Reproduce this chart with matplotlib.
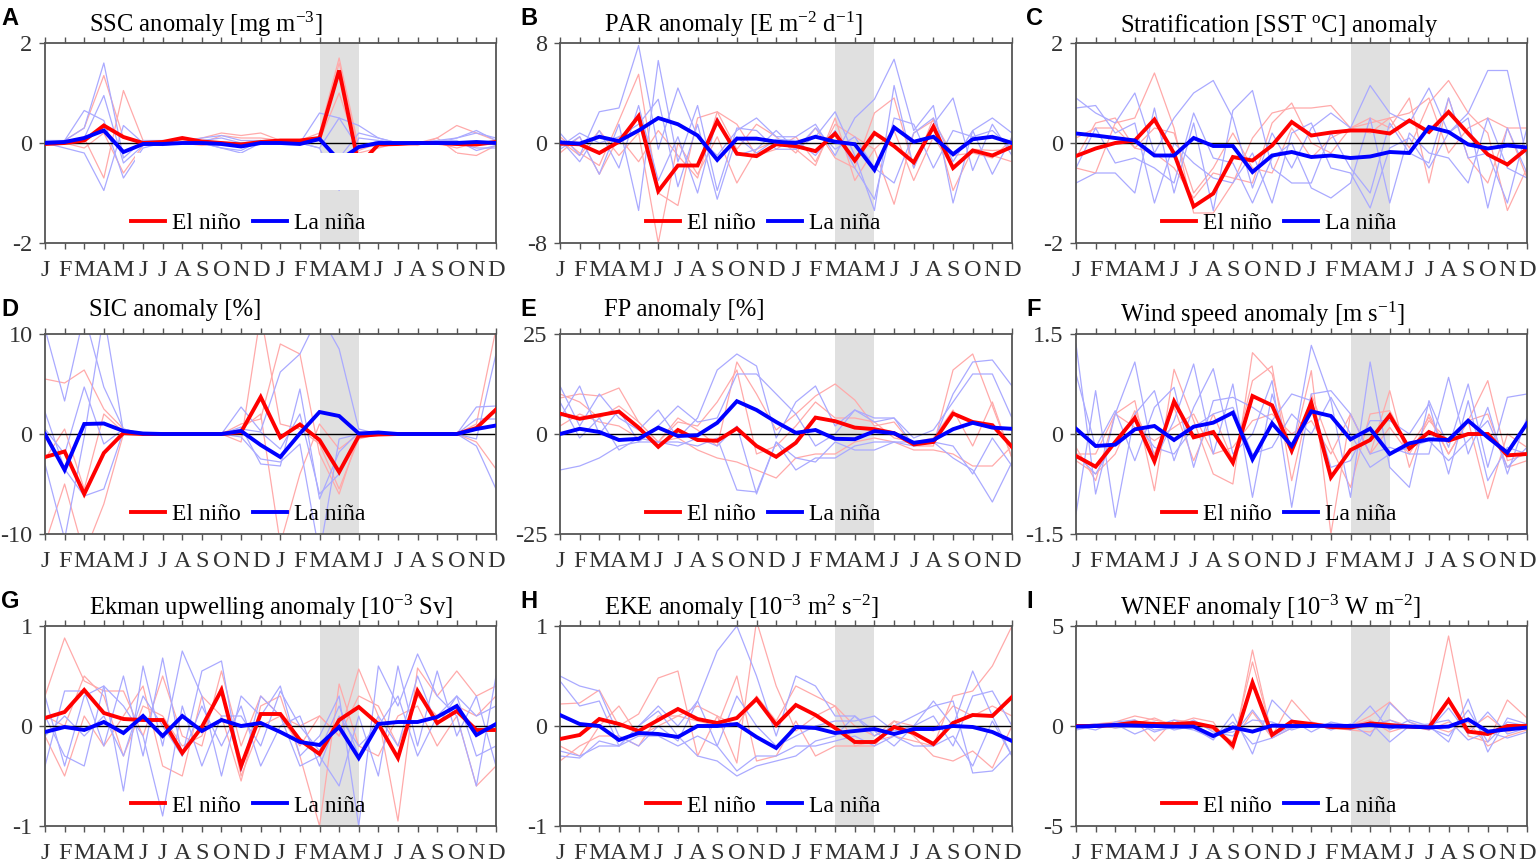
import matplotlib
matplotlib.use("Agg")
import matplotlib.pyplot as plt
from matplotlib.patches import Rectangle
import numpy as np

plt.rcParams['font.family'] = ['Liberation Serif', 'DejaVu Serif']
plt.rcParams['mathtext.default'] = 'regular'
plt.rcParams['axes.unicode_minus'] = False

months = ["J", "F", "M", "A", "M", "J", "J", "A", "S", "O", "N", "D"] * 2
x = np.arange(24)

# ---------------- A: SSC ----------------
ssc_el = [-0.02, 0.0, 0.05, 0.35, 0.12, 0.0, 0.02, 0.1, 0.03, 0.0, -0.03, 0.02,
          0.05, 0.05, 0.1, 1.45, -0.45, -0.03, -0.02, 0.0, 0.0, -0.02, -0.03, 0.02]
ssc_la = [0.0, 0.02, 0.1, 0.25, -0.18, -0.02, -0.02, 0.0, 0.0, -0.02, -0.07, 0.0,
          0.0, -0.02, 0.08, -0.35, -0.08, 0.0, 0.0, 0.0, 0.0, 0.0, 0.02, 0.0]
ssc_el_m = [
    [0, 0.05, 0.3, 1.35, 0.1, 0, 0.05, 0.05, 0.1, 0.2, 0.15, 0.2, 0.05, 0.05, 0.2, 1.7, -0.1, -0.05, 0, 0, 0.1, 0.35, 0.2, 0.05],
    [0.02, 0.03, 0.1, -0.7, 1.05, 0.05, 0, 0.05, 0, 0.15, 0.1, 0.1, 0.05, 0.05, 0.05, 1.0, -0.2, -0.1, 0, -0.05, 0.1, -0.2, -0.25, -0.05],
    [-0.02, 0, -0.1, 0.2, -0.6, -0.05, 0, 0, -0.05, 0, 0, 0.05, 0, 0.02, 0.05, 1.6, -0.15, 0, 0, 0, 0, -0.1, 0, 0.05]]
ssc_la_m = [
    [0.05, 0.05, 0.3, 1.6, -0.3, 0.05, 0.05, 0, 0.05, 0.1, 0, 0, 0, 0, -0.1, 0.5, 0.35, 0.1, 0, 0, 0, 0.1, 0.25, 0.05],
    [0, 0.05, 0.65, 0.45, -0.7, -0.1, 0, 0.02, 0.1, 0.15, 0.05, 0.05, 0, 0, 0.6, 0.5, -0.1, 0.05, 0, 0, 0.05, 0.1, 0.2, 0.1],
    [0, -0.1, -0.2, -0.95, 0.35, 0, -0.05, 0, 0, -0.1, -0.2, 0, 0, 0, -0.1, -0.95, 0.1, 0.05, 0, 0, 0, 0, -0.1, -0.1],
    [0, 0.03, 0.1, 0.95, -0.4, -0.05, 0, 0, 0, -0.1, -0.15, 0.05, -0.02, 0, 0.05, -0.3, 0.2, 0.1, 0, 0, 0.05, 0.05, -0.15, -0.05]]

# ---------------- B: PAR ----------------
par_el = [-0.05, -0.1, -0.8, 0.1, 2.15, -3.85, -1.8, -1.8, 1.75, -0.85, -1.05, -0.1,
          -0.25, -0.65, 0.75, -1.4, 0.8, -0.25, -1.55, 1.3, -2.0, -0.6, -1.0, -0.3]
par_la = [0.05, -0.05, 0.5, 0.15, 1.0, 2.0, 1.5, 0.6, -1.35, 0.35, 0.35, 0.1,
          0.0, 0.5, 0.1, -0.1, -2.15, 1.25, 0.1, 0.5, -0.9, 0.3, 0.5, 0.0]
par_el_m = [
    [0.5, -0.8, -1.8, 1.8, 5.5, -4.0, -5.0, 2.0, 2.5, -0.5, 1.5, 0.5, -0.8, 1.2, -1.2, -2.0, 2.4, 3.6, -2.0, 2.0, -3.8, -0.5, -1.0, -1.5],
    [0.2, -1.0, 1.0, -1.0, 0.8, -8.0, 0.0, -2.5, 0.5, -3.2, -0.5, 0.2, -0.5, -1.8, 2.0, -3.0, -0.5, -4.9, 0.8, 1.8, -1.0, -0.8, -1.2, 0.3],
    [-0.8, 0.5, -2.5, 0.5, -1.5, 1.0, -1.0, -2.8, 2.5, 1.5, -1.0, -0.5, 0.5, -1.5, 1.5, 0.5, -0.5, 1.0, -3.0, 0.5, -2.0, -0.5, -0.6, -0.5]]
par_la_m = [
    [0.8, -1.0, 2.5, 2.8, 7.8, -0.5, 4.4, 0.5, -1.0, 1.0, 2.0, 0.5, 0.5, 1.5, -1.0, 2.0, 3.5, 6.7, 1.0, 3.0, -4.8, 1.0, 2.0, 0.8],
    [-0.5, 0.5, -2.5, 1.5, -5.4, 6.6, -1.5, 3.0, -3.8, 1.2, 1.0, -0.5, -0.5, 0.5, 2.5, -1.0, -5.4, 4.6, -2.0, 1.5, 3.6, -2.2, 1.5, -1.0],
    [0.3, -1.5, 1.0, -2.0, 3.0, -3.0, 0.5, -4.0, 2.0, -1.0, -0.5, 1.0, -0.5, 1.2, -0.5, 0.5, -2.0, -3.2, 0.8, 2.0, -1.5, 1.0, -2.5, 0.5],
    [-0.3, 0.8, 0.0, 0.5, 1.5, 3.5, -3.5, 1.5, -4.5, 0.5, -0.8, 0.3, 0.2, -1.0, 1.0, -2.0, -4.5, 2.0, 1.5, -2.0, 1.0, 0.5, 1.0, -0.5]]

# ---------------- C: Stratification ----------------
sst_el = [-0.26, -0.11, 0.0, 0.05, 0.47, -0.21, -1.27, -1.01, -0.28, -0.35, -0.05, 0.42,
          0.15, 0.21, 0.25, 0.25, 0.19, 0.45, 0.22, 0.62, 0.19, -0.23, -0.43, -0.11]
sst_la = [0.19, 0.15, 0.1, 0.05, -0.25, -0.25, 0.1, -0.06, -0.06, -0.58, -0.25, -0.18,
          -0.28, -0.25, -0.3, -0.27, -0.18, -0.2, 0.32, 0.22, -0.03, -0.11, -0.05, -0.09]
sst_el_m = [
    [-0.5, -0.6, 0.4, 0.5, 1.4, 0.3, -1.4, -1.4, -0.8, 0.1, 0.6, 0.7, 0.7, 0.75, 0.3, 0.4, 0.5, -0.1, 0.8, 1.25, 0.6, 0.2, -1.35, -0.5],
    [0.1, 0.3, 0.3, -0.1, -0.2, -0.5, -1.1, -0.6, -0.7, -0.8, 0.4, 0.8, 0.0, -0.2, 0.3, 0.5, 0.3, 0.9, -0.8, 0.9, -0.3, -0.8, 0.3, 0.3],
    [-0.3, 0.4, 0.5, -0.1, 0.3, 0.2, -1.0, -0.5, 0.2, -0.5, -0.6, 0.3, -0.3, 0.1, 0.3, 0.2, 0.5, 0.6, 0.9, -0.2, 0.3, 0.5, 0.3, -0.7]]
sst_la_m = [
    [0.9, 0.6, 0.4, 1.0, -0.2, 0.5, 1.0, 1.25, 0.5, -0.9, 0.2, -0.5, 0.3, 0.6, 0.3, 1.15, 0.6, 0.4, 1.1, 0.2, 0.6, 1.45, 1.45, -0.3],
    [-0.8, -0.6, -0.6, -1.0, 0.7, -1.0, 0.4, -1.35, 0.65, 1.05, -0.5, -0.8, -0.8, 0.2, -0.5, -1.0, 0.4, -0.2, -0.4, 0.9, -0.3, -0.2, -1.2, 0.3],
    [0.7, 0.75, 0.2, 0.4, -1.2, 0.0, -0.4, -0.7, -0.8, -0.2, -1.2, 0.2, 0.4, -0.5, -0.6, -1.3, -0.1, 0.1, -0.5, 0.2, 0.5, -1.3, 0.3, -0.6],
    [-0.5, 0.3, -0.4, -0.3, -0.5, -0.8, 0.6, -0.3, -0.4, -1.2, -0.3, 0.0, -0.9, -1.1, -0.8, 0.5, -1.2, 0.2, -0.2, -0.3, -0.8, 0.5, -0.5, -0.7]]

# ---------------- D: SIC ----------------
sic_el = [-2.3, -1.75, -6.0, -1.9, 0.1, 0.0, 0.0, 0.0, 0.0, 0.0, 0.2, 3.7,
          -0.35, 0.95, -0.6, -3.8, -0.2, -0.05, 0.0, 0.0, 0.0, 0.0, 0.6, 2.45]
sic_la = [0.0, -3.6, 1.0, 1.05, 0.3, 0.05, 0.0, 0.0, 0.0, 0.0, 0.3, -1.1,
          -2.3, 0.05, 2.2, 1.8, 0.05, 0.15, 0.0, 0.0, 0.0, 0.0, 0.5, 0.85]
sic_el_m = [
    [5.5, 5.1, 6.4, 2.5, 0.5, 0, 0, 0, 0, 0, 1.0, 1.5, 9.0, 8.0, -2.0, -6.0, 0.0, 0, 0, 0, 0, 0, 1.0, 10.5],
    [-11, -5.0, -12, -7.0, 0.0, 0, 0, 0, 0, 0, -0.8, 12, 1.0, 0.5, -1.0, -5.5, -0.5, 0, 0, 0, 0, 0, -0.8, -3.5],
    [-2.5, 0.5, -5.5, 2.0, 0.2, 0, 0, 0, 0, 0, 0.5, 2.0, -11, -4.0, 1.0, -1.5, 0, 0, 0, 0, 0, 0, 0.5, 2.5]]
sic_la_m = [
    [10.5, 3.3, 12, 4.7, 0.5, 0, 0, 0, 0, 0, 2.7, 0.3, 6.2, 8.0, 12, 8.5, 0.5, 0, 0, 0, 0, 0, 2.7, 2.8],
    [2.2, -3.5, -6.2, -5.5, 0.3, 0, 0, 0, 0, 0, 0.7, -3.0, -3.2, 4.5, -6.5, -1.8, 0.2, 0, 0, 0, 0, 0, -0.5, 8.0],
    [-3.0, -10.5, -0.3, 12, 0.2, 0, 0, 0, 0, 0, -0.3, -2.5, -2.8, -1.0, -12, -0.5, 0, 0, 0, 0, 0, 0, -1.2, -5.5],
    [0.5, -2.0, 4.7, -1.0, 0.5, 0, 0, 0, 0, 0, 0.5, 0.2, -1.5, 2.0, -6.0, -4.0, 0, 0, 0, 0, 0, 0, 1.5, 1.5]]

# ---------------- E: FP ----------------
fp_el = [5.1, 3.8, 4.7, 5.6, 1.6, -3.2, 1.0, -1.5, -1.7, 1.4, -3.0, -5.7,
         -2.2, 4.1, 3.2, 1.6, 1.2, 0.2, -2.6, -2.0, 5.1, 3.0, 2.2, -3.2]
fp_la = [0.0, 1.3, 0.5, -1.5, -1.2, 1.6, -0.5, -0.3, 2.8, 8.2, 6.0, 3.0,
         0.3, 1.0, -1.2, -1.3, 0.7, 0.2, -2.2, -1.5, 1.2, 2.8, 1.6, 1.3]
fp_el_m = [
    [9, 10, 9.5, 11.5, 3, -2, 4, 1, -3, 18, 10, 1, 5, 9.5, 12.5, 8.5, 2, 3, -3, -3, 16, 20, 7, -6],
    [2, 5, 3, 2, -1, -2, -1, -4, -6, -7, -9, -11, -6, -5, -5, -2, -1, -2, -4, -4, -5, -8, -8, -3],
    [10, 8, 4, 7, 3, -2, 3, 2, 8, 16, -5, -3, 2, 8, 4, 4, 3, -1, -2, -1, 6, -3, 8, -6]]
fp_la_m = [
    [12, 2, 10, 4, 1, 6, -1, 4, 16, 20, 17, -1, 8, 12, 2, 6, 3, 4, -3, -2, 10, 18, 18.5, 12],
    [-9, -8, -6, -3, -2, -2, -2, -3, -1, -14, -14.5, -2, -9, -6, -6, -3, -2, -2, -3, -2, -6, -9, -17, -7],
    [4, 12, 0, 6, -2, 2, 7, 3, 4, 15, 15, 10, 5, -3, 0, 6, 4, 4, -1, 1, 8, 15, 15, 4],
    [8, -1, 4, -4, -1, -2, -3, -1, -3, 2, -15, -2, -6, -7, -2, -4, -4, -2, -2, -2, -3, -10, -1, -8]]

# ---------------- F: Wind speed ----------------
ws_el = [-0.33, -0.49, -0.12, 0.24, -0.41, 0.49, -0.05, 0.03, -0.43, 0.57, 0.43, -0.25,
         0.47, -0.65, -0.24, -0.09, 0.28, -0.22, 0.03, -0.1, 0.0, 0.0, -0.32, -0.3]
ws_la = [0.08, -0.18, -0.16, 0.07, 0.12, -0.09, 0.11, 0.17, 0.32, -0.38, 0.16, -0.18,
         0.34, 0.27, -0.08, 0.08, -0.3, -0.14, -0.08, -0.09, 0.2, -0.05, -0.28, 0.16]
ws_el_m = [
    [-0.2, -0.7, 0.3, 0.5, -0.85, 0.97, 0.2, -0.6, -0.75, 1.22, 0.9, -0.3, 0.95, -1.5, 0.3, -0.3, 0.65, -0.5, 0.3, -0.3, 0.2, 0.8, -0.4, -0.3],
    [-0.4, -0.6, -0.3, 0.35, -0.3, 0.4, -0.4, 0.3, -0.4, 0.8, 1.02, -0.7, 0.6, -0.2, -0.8, 0.3, 0.35, -0.2, 0.25, -0.3, 0.2, -0.97, 0.0, -0.2],
    [-0.3, -0.3, 0.3, 0.1, -0.1, 0.1, 0.3, -0.3, -0.2, 0.2, 0.3, 0.0, 0.2, -0.3, 0.3, -0.3, 0.1, -0.3, 0.2, -0.1, 0.2, 0.3, -0.5, -0.4]]
ws_la_m = [
    [1.35, -0.9, 0.3, 1.08, -0.4, 0.2, 1.05, -0.3, 0.75, -0.95, 0.6, -0.3, 1.33, 0.5, -0.95, 1.08, -0.5, -0.8, 0.5, -0.2, 0.75, -0.5, 0.55, 0.6],
    [-1.2, 0.65, -1.25, 0.3, 0.65, -0.4, 0.4, 0.98, -0.3, 0.0, 0.8, -1.1, 0.6, 0.65, 0.3, -0.3, -0.2, -0.3, -0.3, 0.85, -0.3, 0.4, -0.6, 0.25],
    [0.9, -0.2, 0.35, -0.4, 0.4, 0.7, -0.5, 0.5, 0.55, 0.4, 0.2, 0.6, 0.5, -0.5, -0.4, 0.2, 0.2, 0.0, 0.45, -0.6, 0.5, -0.7, -0.2, -0.3],
    [-0.3, -0.6, -0.1, 0.2, -0.2, -0.3, 0.1, 0.3, 0.4, -0.3, -0.2, 0.3, 0.0, 0.55, 0.0, -0.5, -0.3, -0.2, -0.1, -0.4, -0.1, 0.2, -0.5, -0.2]]

# ---------------- G: Ekman upwelling ----------------
ek_el = [0.08, 0.14, 0.36, 0.13, 0.07, 0.06, 0.06, -0.27, -0.01, 0.36, -0.4, 0.12,
         0.12, -0.14, -0.28, 0.06, 0.19, 0.02, -0.32, 0.35, 0.03, 0.15, -0.04, -0.04]
ek_la = [-0.06, -0.01, -0.04, 0.04, -0.07, 0.1, -0.1, 0.1, -0.05, 0.06, 0.0, 0.03,
         -0.06, -0.16, -0.19, -0.01, -0.32, 0.02, 0.04, 0.04, 0.09, 0.2, -0.09, 0.02]
ek_el_m = [
    [0.3, 0.88, 0.45, 0.35, 0.35, -0.1, 0.5, -0.1, -0.2, 0.55, -0.2, 0.3, 0.1, -0.2, 0.1, -0.1, 0.57, 0.1, -0.95, 0.58, 0.3, 0.55, 0.3, 0.4],
    [-0.1, -0.5, 0.1, -0.2, 0.1, 0.4, -0.4, -0.5, 0.3, 0.1, -0.55, 0.2, 0.3, -0.3, -1.0, 0.42, -0.2, -0.3, 0.1, 0.2, -0.2, 0.1, -0.6, -0.4],
    [0.1, 0.0, 0.5, 0.3, -0.3, 0.2, 0.1, -0.2, -0.1, 0.4, -0.5, 0.0, 0.1, 0.0, 0.1, -0.1, 0.3, 0.2, -0.2, 0.3, 0.1, 0.2, 0.1, 0.3]]
ek_la_m = [
    [0.3, -0.4, 0.3, 0.4, -0.65, 0.6, -0.2, 0.75, 0.3, -0.5, 0.3, 0.1, 0.4, -0.3, -0.1, 0.3, -1.0, 0.6, 0.2, 0.72, 0.3, 0.1, -0.6, 0.5],
    [-0.4, 0.35, 0.35, -0.2, 0.5, -0.3, 0.68, -0.3, 0.55, 0.65, -0.45, 0.3, 0.1, -0.4, -0.3, -0.6, 0.1, -0.5, 0.6, -0.2, 0.55, -0.1, 0.3, -0.4],
    [0.1, -0.3, -0.4, 0.4, 0.2, -0.1, -0.9, 0.2, -0.4, 0.1, 0.1, -0.2, 0.35, 0.0, -0.25, 0.2, -0.3, 0.1, -0.2, 0.5, 0.0, 0.3, 0.1, 0.2],
    [-0.1, 0.1, -0.1, 0.1, -0.3, 0.3, 0.0, -0.3, 0.2, -0.2, 0.2, -0.4, 0.0, 0.1, -0.4, 0.1, -0.2, 0.0, 0.3, -0.3, 0.1, 0.3, -0.3, -0.2]]

# ---------------- H: EKE ----------------
eke_el = [-0.13, -0.09, 0.07, 0.02, -0.05, 0.06, 0.17, 0.07, 0.03, 0.08, 0.27, 0.01,
          0.21, 0.11, -0.02, -0.16, -0.16, -0.01, -0.07, -0.18, 0.03, 0.11, 0.1, 0.29]
eke_la = [0.11, 0.02, 0.0, -0.14, -0.07, -0.08, -0.11, 0.0, 0.0, 0.02, -0.11, -0.22,
          -0.01, -0.02, -0.07, -0.05, -0.03, -0.08, -0.03, -0.03, 0.0, -0.01, -0.06, -0.15]
eke_el_m = [
    [0.22, 0.23, 0.36, 0.0, 0.12, 0.48, 0.55, -0.3, 0.1, -0.37, 1.05, 0.4, -0.05, 0.1, 0.2, -0.2, -0.2, 0.05, -0.1, -0.3, -0.35, -0.25, -0.42, 0.0],
    [-0.35, -0.2, -0.1, -0.1, -0.2, 0.1, 0.1, 0.05, 0.0, 0.5, -0.35, -0.3, 0.05, -0.3, -0.2, -0.2, -0.15, -0.1, -0.15, -0.2, 0.3, 0.35, 0.6, 1.0],
    [-0.2, -0.3, 0.0, 0.2, -0.1, 0.0, 0.1, 0.2, 0.1, 0.0, 0.3, 0.05, 0.4, 0.3, 0.2, 0.0, -0.1, 0.05, 0.0, -0.05, 0.2, 0.1, 0.2, 0.1]]
eke_la_m = [
    [0.5, 0.4, 0.35, -0.1, -0.2, 0.0, -0.15, 0.25, 0.75, 1.0, 0.5, -0.1, 0.5, 0.4, 0.1, 0.1, -0.05, -0.2, 0.0, 0.25, 0.0, 0.55, 0.1, -0.3],
    [-0.25, -0.3, -0.2, -0.2, 0.0, 0.15, -0.1, -0.3, -0.35, -0.5, -0.4, -0.35, -0.3, -0.15, -0.1, 0.1, -0.1, 0.0, 0.1, 0.2, 0.25, -0.47, -0.45, -0.25],
    [0.45, 0.2, 0.25, -0.2, 0.0, 0.2, 0.0, 0.25, -0.2, 0.3, 0.0, -0.2, -0.1, 0.0, 0.05, 0.05, 0.1, -0.05, 0.0, 0.1, -0.2, 0.3, 0.35, 0.0],
    [-0.3, -0.32, -0.15, -0.2, -0.1, -0.1, -0.2, -0.1, -0.2, -0.45, -0.3, -0.3, -0.2, -0.2, -0.15, -0.1, -0.2, -0.1, -0.2, -0.2, -0.1, -0.4, 0.05, -0.3]]

# ---------------- I: WNEF ----------------
wn_el = [0.0, 0.0, 0.05, 0.17, 0.1, 0.1, 0.15, -0.05, -0.98, 2.17, -0.45, 0.22,
         0.1, -0.05, -0.08, 0.13, 0.05, -0.03, -0.07, 1.3, -0.28, -0.4, 0.0, 0.0]
wn_la = [-0.03, 0.0, 0.05, 0.02, 0.0, -0.03, -0.03, -0.5, -0.07, -0.28, 0.02, 0.0,
         0.0, 0.02, 0.0, 0.05, -0.03, -0.03, -0.07, -0.03, 0.33, -0.28, -0.17, -0.08]
wn_el_m = [
    [0.0, 0.1, 0.2, 0.5, 0.3, 0.1, 0.4, 0.2, -1.2, 3.8, -0.5, 1.3, 0.2, 0.0, 0.0, 0.5, 1.2, 0.2, -0.1, 4.5, -0.5, -0.8, 1.3, 0.4],
    [0.0, 0.0, 0.1, 0.3, -0.75, 0.3, 0.2, -0.2, -0.9, 3.2, -0.4, 0.3, 0.0, -0.1, -0.2, -0.3, 0.3, 0.0, 0.0, -0.3, 0.2, -1.0, -0.5, -0.2],
    [0.0, 0.1, -0.1, 0.1, 0.4, 0.0, 0.1, -0.1, -0.8, 0.7, -0.6, -0.1, 0.1, 0.0, 0.0, 0.3, -0.3, 0.0, -0.2, 0.2, -0.2, 0.5, -0.3, 0.0]]
wn_la_m = [
    [-0.1, 0.1, 0.1, -0.4, 0.0, 0.3, -0.1, -0.7, 0.6, -1.4, 1.3, 0.3, -0.3, 0.2, 0.0, 1.0, -0.2, 0.3, 0.0, -0.8, 1.35, -1.3, 0.4, 0.1],
    [0.0, -0.2, 0.2, 0.3, -0.2, -0.1, 0.3, -0.3, -0.5, 0.8, -0.5, 0.0, 0.2, -0.2, 0.1, -0.5, 1.15, 0.2, -0.2, 0.9, -0.4, 0.7, -0.4, -0.1],
    [-0.2, 0.0, 0.0, 0.2, -0.3, 0.0, -0.2, -0.6, 0.2, -0.9, -0.6, -0.1, 0.0, 0.1, -0.2, 0.2, -0.8, 0.0, 0.1, 0.3, -0.7, -0.3, -0.6, -0.3],
    [0.0, 0.1, -0.1, 0.0, 0.2, -0.2, 0.0, -0.4, -0.3, 0.3, 0.2, -0.2, 0.1, -0.1, 0.1, 0.0, 0.3, -0.1, -0.1, -0.5, 0.8, -0.8, 0.2, 0.0]]

titles = ["SSC anomaly [mg m$^{-3}$]",
          "PAR anomaly [E m$^{-2}$ d$^{-1}$]",
          "Stratification [SST $^{o}$C] anomaly",
          "SIC anomaly [%]",
          "FP anomaly [%]",
          "Wind speed anomaly [m s$^{-1}$]",
          "Ekman upwelling anomaly [10$^{-3}$ Sv]",
          "EKE anomaly [10$^{-3}$ m$^{2}$ s$^{-2}$]",
          "WNEF anomaly [10$^{-3}$ W m$^{-2}$]"]
letters = ["A", "B", "C", "D", "E", "F", "G", "H", "I"]
ylims = [2, 8, 2, 10, 25, 1.5, 1, 1, 5]
ylabels = [["-2", "0", "2"], ["-8", "0", "8"], ["-2", "0", "2"],
           ["-10", "0", "10"], ["-25", "0", "25"], ["-1.5", "0", "1.5"],
           ["-1", "0", "1"], ["-1", "0", "1"], ["-5", "0", "5"]]
el_means = [ssc_el, par_el, sst_el, sic_el, fp_el, ws_el, ek_el, eke_el, wn_el]
la_means = [ssc_la, par_la, sst_la, sic_la, fp_la, ws_la, ek_la, eke_la, wn_la]
el_members = [ssc_el_m, par_el_m, sst_el_m, sic_el_m, fp_el_m, ws_el_m, ek_el_m, eke_el_m, wn_el_m]
la_members = [ssc_la_m, par_la_m, sst_la_m, sic_la_m, fp_la_m, ws_la_m, ek_la_m, eke_la_m, wn_la_m]

# layout (pixels of a 1536 x 863 canvas)
W, H = 1536, 863
col_left = [45, 560, 1076]
col_w = [451, 452, 451]
row_top = [43, 334, 626]
ax_h = 200
title_gap = [11, 11, 11, 18, 18, 12, 11, 11, 11]
letter_x = [1, 520, 1026]
letter_base = [25, 316, 608]

RED, BLUE = "#ff0000", "#0000ff"
RED_L, BLUE_L = "#ffaaaa", "#aaaaff"
SPINE = "#555555"
FS = 17

fig = plt.figure(figsize=(W / 100, H / 100), dpi=100)

for k in range(9):
    r, c = divmod(k, 3)
    left = col_left[c] / W
    bottom = 1 - (row_top[r] + ax_h) / H
    ax = fig.add_axes([left, bottom, col_w[c] / W, ax_h / H])
    lim = ylims[k]
    ax.axvspan(14, 16, color="#e0e0e0", zorder=0, lw=0)
    for m in el_members[k]:
        ax.plot(x, m, color=RED_L, lw=0.9, zorder=1)
    for m in la_members[k]:
        ax.plot(x, m, color=BLUE_L, lw=0.9, zorder=1)
    ax.axhline(0, color="black", lw=1.0, zorder=2)
    h1, = ax.plot(x, el_means[k], color=RED, lw=2.8, zorder=3, solid_joinstyle="miter")
    h2, = ax.plot(x, la_means[k], color=BLUE, lw=2.8, zorder=3, solid_joinstyle="miter")
    if k == 0:
        ax.add_patch(Rectangle((4.6, -0.93), 16.4, 0.73, facecolor="white",
                               edgecolor="none", zorder=4))
    ax.set_xlim(0, 23)
    ax.set_ylim(-lim, lim)
    ax.set_xticks(x)
    ax.set_xticklabels(months, fontsize=FS + 0.5, color="#333333")
    ax.set_yticks([-lim, 0, lim])
    ax.set_yticklabels(ylabels[k], fontsize=FS + 0.5, color="#333333")
    ax.tick_params(axis="x", which="both", direction="out", length=4, width=1.0,
                   color=SPINE, top=True, pad=8)
    ax.tick_params(axis="y", direction="out", length=4, width=1.0, color=SPINE, pad=5)
    for s in ax.spines.values():
        s.set_color(SPINE)
        s.set_linewidth(1.3)
    leg = ax.legend([h1, h2], ["El niño", "La niña"], loc="center",
                    bbox_to_anchor=(0.45, 0.1), ncol=2, frameon=False,
                    fontsize=FS, handlelength=1.45, handletextpad=0.3,
                    columnspacing=0.5, borderaxespad=0)
    leg.set_zorder(5)
    ax.text(0.098, 1 + title_gap[k] / ax_h, titles[k], transform=ax.transAxes,
            ha="left", va="baseline", fontsize=FS + 0.7, color="black")
    fig.text(letter_x[c] / W, 1 - letter_base[r] / H, letters[k],
             ha="left", va="baseline", fontsize=17, fontweight="bold",
             family=["Liberation Sans", "DejaVu Sans"])

fig.savefig("out.png", dpi=100)
